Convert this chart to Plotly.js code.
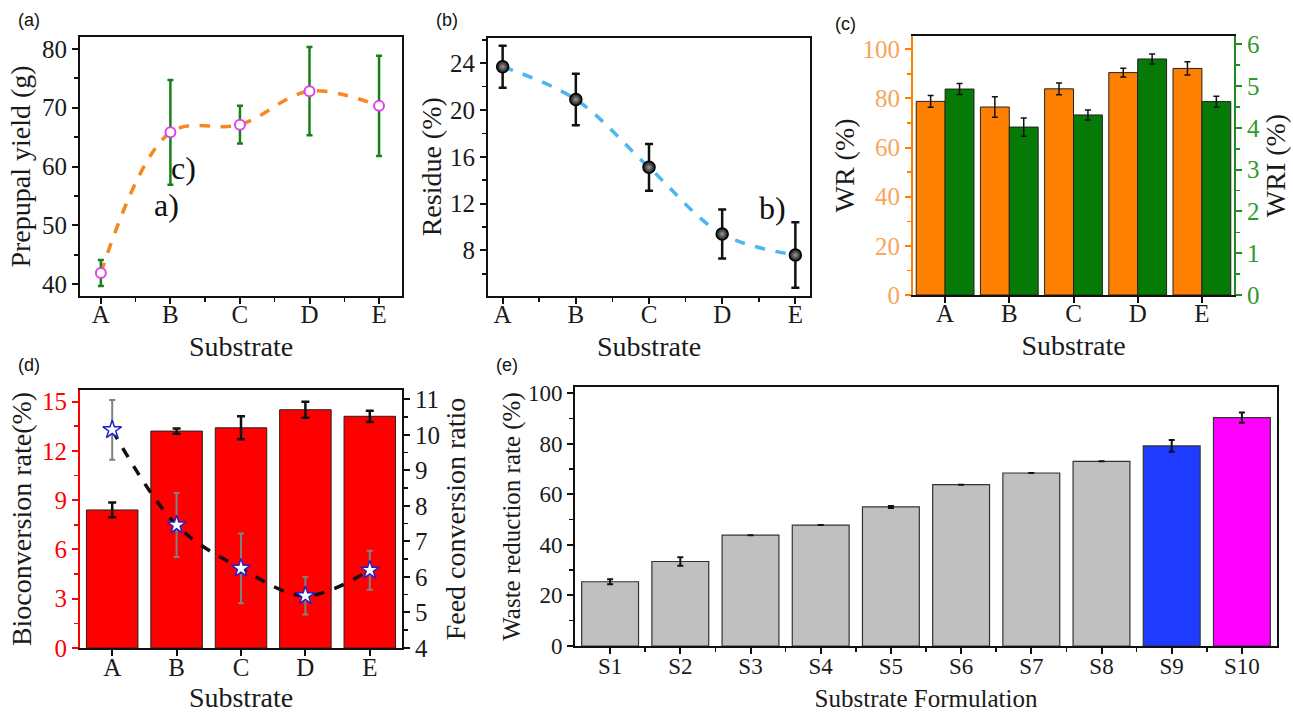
<!DOCTYPE html>
<html><head><meta charset="utf-8">
<script src="https://cdn.plot.ly/plotly-3.0.1.min.js"></script>
<style>html,body{margin:0;padding:0;background:#fff}</style>
</head><body><div id="chart" style="width:1293px;height:713px"></div>
<script>
// ---------- data ----------
const substrates = ["A", "B", "C", "D", "E"];
const prepupalYield = [41.9, 65.8, 67.1, 72.8, 70.3];
const prepupalYieldErr = [2.2, 8.9, 3.2, 7.5, 8.5];
const residue = [23.7, 20.9, 15.1, 9.4, 7.6];
const residueErr = [1.8, 2.2, 2.0, 2.1, 2.8];
const wr = [78.8, 76.5, 83.9, 90.5, 92.2];
const wrErr = [2.4, 4.2, 2.4, 1.8, 2.7];
const wri = [4.93, 4.02, 4.31, 5.65, 4.63];
const wriErr = [0.13, 0.22, 0.12, 0.12, 0.13];
const bioconversion = [8.4, 13.2, 13.4, 14.5, 14.1];
const bioconversionErr = [0.45, 0.16, 0.7, 0.49, 0.34];
const feedConversion = [10.14, 7.46, 6.24, 5.47, 6.19];
const feedConversionErr = [0.84, 0.9, 0.98, 0.53, 0.55];
const formulations = ["S1", "S2", "S3", "S4", "S5", "S6", "S7", "S8", "S9", "S10"];
const wasteReduction = [25.4, 33.4, 43.8, 47.8, 55.0, 63.8, 68.4, 73.0, 79.1, 90.3];
const wasteReductionErr = [1.0, 1.7, 0, 0, 0.4, 0, 0, 0, 2.3, 2.0];

// ---------- styles ----------
const W = 1293, H = 713;
const SERIF = "Liberation Serif, Times New Roman, serif";
const SANS = "Liberation Sans, Arial, sans-serif";
const ORANGE = "#FF8000", GREEN = "#067A06", RED = "#FF0000";
const eColors = ["#C0C0C0","#C0C0C0","#C0C0C0","#C0C0C0","#C0C0C0","#C0C0C0","#C0C0C0","#C0C0C0","#1F3BFF","#FF00FF"];
const sIdx = substrates.map((_, i) => i);
const fIdx = formulations.map((_, i) => i);
const halfS = sIdx.slice(0, -1).map(i => i + 0.5);
const halfF = fIdx.slice(0, -1).map(i => i + 0.5);
const dx = (a, b) => [a / W, b / W];
const dy = (t, b) => [1 - b / H, 1 - t / H];
const tickFont = (c, s) => ({family: SERIF, size: s || 25, color: c || "#1a1a1a"});
const titleFont = {family: SERIF, size: 28, color: "#1a1a1a"};
const eTitleFont = {family: SERIF, size: 25, color: "#1a1a1a"};

function ax(extra) {
  return Object.assign({
    showline: true, linecolor: "#111", linewidth: 2,
    ticks: "outside", ticklen: 6, tickwidth: 2, tickcolor: "#111",
    showgrid: false, zeroline: false, tickfont: tickFont(), fixedrange: true
  }, extra);
}
const minorS = {tickvals: halfS, ticks: "outside", ticklen: 4, tickwidth: 1.5, tickcolor: "#111"};
const panelLabel = (t, x, y) => ({text: t, xref: "paper", yref: "paper", x: x / W, y: 1 - y / H,
  xanchor: "center", yanchor: "middle", showarrow: false, font: {family: SANS, size: 18, color: "#111"}});

const traces = [
  // (a)
  {type: "scatter", mode: "lines", x: sIdx, y: prepupalYield, xaxis: "x", yaxis: "y",
   line: {shape: "spline", smoothing: 1, dash: "dash", width: 3.5, color: "#F7871F"}, hoverinfo: "skip"},
  {type: "scatter", mode: "markers", x: sIdx, y: prepupalYield, xaxis: "x", yaxis: "y",
   error_y: {type: "data", array: prepupalYieldErr, color: "#17801A", thickness: 2.5, width: 3},
   marker: {symbol: "circle", size: 10, color: "#fff", line: {color: "#E040E8", width: 2}}},
  // (b)
  {type: "scatter", mode: "lines", x: sIdx, y: residue, xaxis: "x2", yaxis: "y2",
   line: {shape: "spline", smoothing: 1, dash: "dash", width: 3.5, color: "#4DB6F0"}, hoverinfo: "skip"},
  {type: "scatter", mode: "markers", x: sIdx, y: residue, xaxis: "x2", yaxis: "y2",
   error_y: {type: "data", array: residueErr, color: "#111", thickness: 2.5, width: 4},
   marker: {symbol: "circle", size: 12, color: "#111", gradient: {type: "radial", color: "#9a9a9a"},
            line: {color: "#000", width: 1.5}}},
  // (c)
  {type: "bar", x: sIdx, y: wr, xaxis: "x3", yaxis: "y3", width: 0.45, offset: -0.45,
   marker: {color: ORANGE, line: {color: "#222", width: 1}},
   error_y: {type: "data", array: wrErr, color: "#111", thickness: 1.5, width: 3}},
  {type: "bar", x: sIdx, y: wri, xaxis: "x3", yaxis: "y4", width: 0.45, offset: 0,
   marker: {color: GREEN, line: {color: "#222", width: 1}},
   error_y: {type: "data", array: wriErr, color: "#111", thickness: 1.5, width: 3}},
  // (d)
  {type: "bar", x: sIdx, y: bioconversion, xaxis: "x4", yaxis: "y5", width: 0.8,
   marker: {color: RED, line: {color: "#222", width: 1}},
   error_y: {type: "data", array: bioconversionErr, color: "#111", thickness: 2.5, width: 4}},
  {type: "scatter", mode: "lines", x: sIdx, y: feedConversion, xaxis: "x4", yaxis: "y6",
   line: {shape: "spline", smoothing: 1, dash: "dash", width: 3.5, color: "#111"}, hoverinfo: "skip"},
  {type: "scatter", mode: "markers", x: sIdx, y: feedConversion, xaxis: "x4", yaxis: "y6",
   error_y: {type: "data", array: feedConversionErr, color: "#808080", thickness: 2, width: 3},
   marker: {symbol: "star", size: 14, color: "#fff", line: {color: "#2222CC", width: 1.5}}},
  // (e)
  {type: "bar", x: fIdx, y: wasteReduction, xaxis: "x5", yaxis: "y7", width: 0.81,
   marker: {color: eColors, line: {color: "#333", width: 1.2}},
   error_y: {type: "data", array: wasteReductionErr, color: "#111", thickness: 2, width: 3}}
];

const layout = {
  width: W, height: H, margin: {l: 0, r: 0, t: 0, b: 0},
  paper_bgcolor: "#fff", plot_bgcolor: "rgba(0,0,0,0)", showlegend: false,
  font: {family: SERIF, color: "#1a1a1a"},
  // (a)
  xaxis: ax({domain: dx(80, 402), anchor: "y", range: [-0.3, 4.33], tickvals: sIdx, ticktext: substrates,
    mirror: true, minor: minorS, ticklabelstandoff: -11, title: {text: "Substrate", font: titleFont, standoff: 9}}),
  yaxis: ax({domain: dy(37, 296), anchor: "x", range: [38, 82], tick0: 0, dtick: 10, mirror: true,
    minor: {dtick: 5, ticks: "outside", ticklen: 4, tickwidth: 1.5, tickcolor: "#111"},
    title: {text: "Prepupal yield (g)", font: titleFont, standoff: 3}}),
  // (b)
  xaxis2: ax({domain: dx(488, 810), anchor: "y2", range: [-0.2, 4.2], tickvals: sIdx, ticktext: substrates,
    mirror: true, minor: minorS, ticklabelstandoff: -11, title: {text: "Substrate", font: titleFont, standoff: 9}}),
  yaxis2: ax({domain: dy(37.5, 296), anchor: "x2", range: [4.1, 26.2], tick0: 0, dtick: 4, mirror: true,
    minor: {tick0: 0, dtick: 2, ticks: "outside", ticklen: 4, tickwidth: 1.5, tickcolor: "#111"},
    title: {text: "Residue (%)", font: titleFont, standoff: 0}}),
  // (c)
  xaxis3: ax({domain: dx(913, 1234), anchor: "y3", range: [-0.5, 4.5], tickvals: sIdx, ticktext: substrates,
    mirror: true, ticklabelstandoff: -11, title: {text: "Substrate", font: titleFont, standoff: 9}}),
  yaxis3: ax({domain: dy(36, 295), anchor: "x3", range: [0, 105.4], tick0: 0, dtick: 20,
    linecolor: ORANGE, tickcolor: ORANGE, tickfont: tickFont("#F7A65A"),
    minor: {dtick: 10, ticks: "outside", ticklen: 4, tickwidth: 1.5, tickcolor: ORANGE},
    title: {text: "WR (%)", font: titleFont, standoff: 0}}),
  yaxis4: ax({overlaying: "y3", side: "right", anchor: "x3", range: [0, 6.2], tick0: 0, dtick: 1,
    linecolor: "#1E8C1E", tickcolor: "#1E8C1E", tickfont: tickFont("#2E9A2E"),
    minor: {dtick: 0.5, ticks: "outside", ticklen: 4, tickwidth: 1.5, tickcolor: "#1E8C1E"},
    title: {text: "WRI (%)", font: titleFont, standoff: 5}}),
  // (d)
  xaxis4: ax({domain: dx(80, 402), anchor: "y5", range: [-0.5, 4.5], tickvals: sIdx, ticktext: substrates,
    mirror: true, ticklabelstandoff: -10, title: {text: "Substrate", font: titleFont, standoff: 11}}),
  yaxis5: ax({domain: dy(390, 648), anchor: "x4", range: [0, 15.7], tick0: 0, dtick: 3,
    linecolor: RED, tickcolor: RED, tickfont: tickFont(RED),
    minor: {dtick: 1.5, ticks: "outside", ticklen: 4, tickwidth: 1.5, tickcolor: RED},
    title: {text: "Bioconversion rate(%)", font: titleFont, standoff: 2}}),
  yaxis6: ax({overlaying: "y5", side: "right", anchor: "x4", range: [4, 11.26], tick0: 0, dtick: 1,
    minor: {dtick: 0.5, ticks: "outside", ticklen: 4, tickwidth: 1.5, tickcolor: "#111"},
    title: {text: "Feed conversion ratio", font: titleFont, standoff: 2}}),
  // (e)
  xaxis5: ax({domain: dx(575, 1277), anchor: "y7", range: [-0.5, 9.5], tickvals: fIdx, ticktext: formulations,
    mirror: true, tickfont: tickFont(null, 23), ticklabelstandoff: -8,
    minor: {tickvals: halfF, ticks: "outside", ticklen: 4, tickwidth: 1.5, tickcolor: "#111"},
    title: {text: "Substrate Formulation", font: eTitleFont, standoff: 12}}),
  yaxis7: ax({domain: dy(387, 646), anchor: "x5", range: [0, 102.4], tick0: 0, dtick: 20, mirror: true,
    tickfont: tickFont(null, 23),
    minor: {dtick: 10, ticks: "outside", ticklen: 4, tickwidth: 1.5, tickcolor: "#111"},
    title: {text: "Waste reduction rate (%)", font: eTitleFont, standoff: 0}}),
  annotations: [
    panelLabel("(a)", 29, 20),
    panelLabel("(b)", 447, 20),
    panelLabel("(c)", 845, 24),
    panelLabel("(d)", 29, 365),
    panelLabel("(e)", 507, 365),
    {text: "c)", xref: "x", yref: "y", x: 1.19, y: 59.7, showarrow: false, font: {family: SERIF, size: 32, color: "#111"}},
    {text: "a)", xref: "x", yref: "y", x: 0.94, y: 53.4, showarrow: false, font: {family: SERIF, size: 32, color: "#111"}},
    {text: "b)", xref: "x2", yref: "y2", x: 3.69, y: 11.6, showarrow: false, font: {family: SERIF, size: 32, color: "#111"}}
  ]
};

Plotly.newPlot("chart", traces, layout, {staticPlot: true, displayModeBar: false});
</script>
</body></html>
